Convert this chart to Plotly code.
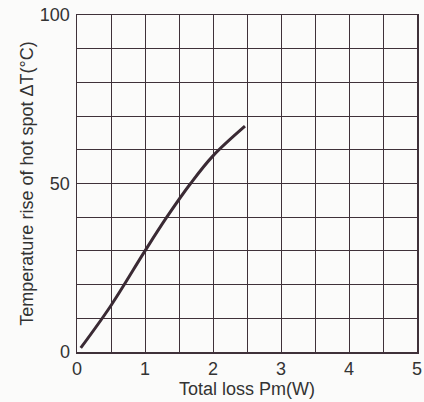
import plotly.graph_objects as go

total_loss_w = [0.055, 0.5, 1.0, 1.32, 1.67, 2.0, 2.47]
temp_rise_c = [1.2, 13.8, 30.0, 40.0, 50.0, 58.2, 67.0]

x_ticks = [0, 1, 2, 3, 4, 5]
y_ticks = [0, 50, 100]

grid_col = "#3f3139"
font = dict(family="Liberation Sans, Arial, sans-serif", size=18, color="#333333")

fig = go.Figure()
fig.add_trace(go.Scatter(
    x=total_loss_w, y=temp_rise_c, mode="lines",
    line=dict(color="#3a2a34", width=3, shape="spline", smoothing=1.0),
    showlegend=False, hoverinfo="skip"))

fig.update_layout(
    width=424, height=402, autosize=False,
    margin=dict(l=77, r=7, t=15, b=50, autoexpand=False),
    paper_bgcolor="#fbfbfa", plot_bgcolor="#fbfbfa",
    font=font,
)
fig.update_xaxes(
    range=[0, 5], tickvals=x_ticks, ticktext=[str(v) for v in x_ticks],
    showgrid=True, gridcolor=grid_col, gridwidth=1,
    minor=dict(dtick=0.5, showgrid=True, gridcolor=grid_col, gridwidth=1),
    showline=True, linecolor=grid_col, linewidth=1.5, mirror=True,
    zeroline=False, ticks="", ticklabelstandoff=0, automargin=False,
    ticklabeloverflow="allow",
    title=dict(text="Total loss Pm(W)", standoff=2, font=font),
)
fig.update_yaxes(
    range=[0, 100], tickvals=y_ticks, ticktext=[str(v) for v in y_ticks],
    showgrid=True, gridcolor=grid_col, gridwidth=1,
    minor=dict(dtick=10, showgrid=True, gridcolor=grid_col, gridwidth=1),
    showline=True, linecolor=grid_col, linewidth=1.5, mirror=True,
    zeroline=False, ticks="", ticklabelstandoff=2, automargin=False,
    ticklabeloverflow="allow",
    title=dict(text="Temperature rise of hot spot ΔT(°C)", standoff=1, font=font),
)

fig.write_html(
    "out.html",
    config={"displayModeBar": False, "staticPlot": True},
    post_script="document.body.style.margin='0';document.body.style.overflow='hidden';",
)
